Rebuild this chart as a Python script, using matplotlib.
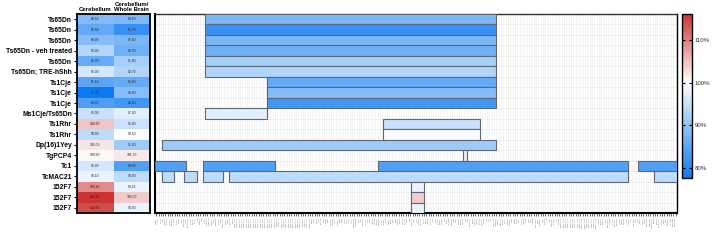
import numpy as np
import matplotlib
matplotlib.use("Agg")
import matplotlib.pyplot as plt
from matplotlib.colors import LinearSegmentedColormap, Normalize
from matplotlib.cm import ScalarMappable

plt.rcParams['font.family'] = ['Liberation Sans', 'DejaVu Sans']

# mouse models (rows, top to bottom)
models = ["Ts65Dn", "Ts65Dn", "Ts65Dn", "Ts65Dn - veh treated", "Ts65Dn",
          "Ts65Dn; TRE-hShh", "Ts1Cje", "Ts1Cje", "Ts1Cje", "Ms1Cje/Ts65Dn",
          "Ts1Rhr", "Ts1Rhr", "Dp(16)1Yey", "TgPCP4", "Tc1", "TcMAC21",
          "152F7", "152F7", "152F7"]
cerebellum = [88.50, 85.50, 88.90, 93.00, 86.00, 96.00, 85.10, 77.70, 83.80, 95.00,
              104.60, 94.00, 102.00, 100.60, 96.00, 98.10, 109.10, 116.05, 114.00]
whole_brain = [88.10, 81.70, 87.80, 86.70, 91.80, 92.70, 85.90, 88.80, 82.50, 97.30,
               95.00, 99.50, 91.10, 101.70, 84.00, 94.00, 98.22, 104.00, 98.00]

# trisomic gene ranges per model, in gene-axis units
segments = [
    [(21.5, 146.5)],
    [(21.5, 146.5)],
    [(21.5, 146.5)],
    [(21.5, 146.5)],
    [(21.5, 146.5)],
    [(21.5, 146.5)],
    [(48.0, 146.5)],
    [(48.0, 146.5)],
    [(48.0, 146.5)],
    [(21.5, 48.0)],
    [(98.0, 139.5)],
    [(98.0, 139.5)],
    [(3.0, 146.5)],
    [(132.2, 133.7)],
    [(0.0, 13.5), (20.7, 51.5), (95.8, 203.0), (207.2, 224.0)],
    [(2.9, 8.2), (12.3, 17.9), (20.7, 29.3), (31.9, 203.0), (214.0, 224.0)],
    [(109.7, 115.5)],
    [(109.7, 115.5)],
    [(109.7, 115.5)],
]

genes = [
    "Bage2", "Tpte", "Poted", "Lipi", "Rbm11", "Abcc13", "Hspa13", "Samsn1", "Nrip1", "Usp25",
    "Cxadr", "Btg3", "C21orf91", "Chodl", "Tmprss15", "Ncam2", "Mrpl39", "Jam2", "Atp5j", "Gabpa",
    "App", "Cyyr1", "Adamts1", "Adamts5", "N6amt1", "Ltn1", "Rwdd2b", "Usp16", "Cct8", "Map3k7cl",
    "Bach1", "Grik1", "Cldn17", "Cldn8", "Krtap24-1", "Krtap25-1", "Krtap26-1", "Krtap27-1", "Krtap23-1", "Krtap13-2",
    "Krtap13-1", "Krtap13-3", "Krtap13-4", "Krtap15-1", "Krtap19-1", "Krtap19-2", "Krtap19-3", "Krtap19-4", "Krtap19-5", "Krtap19-6",
    "Krtap19-7", "Krtap22-2", "Krtap6-3", "Krtap6-2", "Krtap22-1", "Krtap6-1", "Krtap20-1", "Krtap20-2", "Krtap20-3", "Krtap20-4",
    "Krtap21-3", "Krtap21-2", "Krtap21-1", "Krtap8-1", "Krtap7-1", "Krtap11-1", "Krtap19-8", "Tiam1", "Sod1", "Scaf4",
    "Hunk", "Mis18a", "Urb1", "Eva1c", "Mrap", "Cfap298", "Tcp10l", "Synj1", "Paxbp1", "Olig2",
    "Olig1", "Ifnar2", "Il10rb", "Ifnar1", "Ifngr2", "Tmem50b", "Dnajc28", "Gart", "Son", "Donson",
    "Cryzl1", "Itsn1", "Atp5o", "Mrps6", "Slc5a3", "Kcne2", "Smim11", "Kcne1", "Rcan1", "Clic6",
    "Runx1", "Setd4", "Cbr1", "Cbr3", "Dop1b", "Morc3", "Chaf1b", "Cldn14", "Sim2", "Hlcs",
    "Ripply3", "Pigp", "Ttc3", "Vps26c", "Dyrk1a", "Kcnj6", "Dscr4", "Dscr8", "Kcnj15", "Erg",
    "Ets2", "Psmg1", "Brwd1", "Hmgn1", "Wrb", "Lca5l", "Sh3bgr", "B3galt5", "Igsf5", "Pcp4",
    "Dscam", "Bace2", "Fam3b", "Mx2", "Mx1", "Tmprss2", "Ripk4", "Prdm15", "C2cd2", "Zbtb21",
    "Umodl1", "Abcg1", "Tff3", "Tff2", "Tff1", "Tmprss3", "Ubash3a", "Rsph1", "Slc37a1", "Pde9a",
    "Wdr4", "Ndufv3", "Pknox1", "Cbs", "U2af1", "Cryaa", "Sik1", "Hsf2bp", "Rrp1b", "Pdxk",
    "Cstb", "Rrp1", "Agpat3", "Trappc10", "Pwp2", "Gatd3a", "Icosl", "Dnmt3l", "Aire", "Pfkl",
    "Cfap410", "Trpm2", "Lrrc3", "Tspear", "Krtap10-1", "Krtap10-2", "Krtap10-3", "Krtap10-4", "Krtap10-5", "Krtap10-6",
    "Krtap10-7", "Krtap10-8", "Krtap10-9", "Krtap10-10", "Krtap10-11", "Krtap12-4", "Krtap12-3", "Krtap12-2", "Krtap12-1", "Krtap10-12",
    "Ube2g2", "Sumo3", "Pttg1ip", "Itgb2", "Fam207a", "Adarb1", "Pofut2", "Col18a1", "Slc19a1", "Pcbp3",
    "Col6a1", "Col6a2", "Ftcd", "Spatc1l", "Lss", "Mcm3ap", "Ybey", "Pcnt", "Dip2a", "S100b",
    "Prmt2", "C21orf58", "C21orf62", "C21orf140", "Dscr9", "Dscr10", "Smim34a", "Gatd3b", "Sik1b", "Cbsl",
    "U2af1l5", "Cryaa2", "Mir99ahg", "Mir155hg",
]

vals = np.column_stack([cerebellum, whole_brain])
vmin, vmax = vals.min(), vals.max()
mid = (100 - vmin) / (vmax - vmin)
cmap = LinearSegmentedColormap.from_list(
    "ds", [(0, "#0d7af2"), (mid, "#ffffff"), (1, "#cc3333")])
norm = Normalize(vmin=vmin, vmax=vmax)

fig = plt.figure(figsize=(7.13, 2.5), dpi=100)
ax_h = fig.add_axes([0.108, 0.148, 0.1024, 0.796])
ax_b = fig.add_axes([0.2174, 0.148, 0.7321, 0.796])
cax = fig.add_axes([0.9565, 0.288, 0.014, 0.656])

n = len(models)

# heatmap
ax_h.pcolormesh(np.arange(3), np.arange(n + 1), vals, cmap=cmap, norm=norm)
for i in range(n):
    for j in range(2):
        ax_h.text(j + 0.5, i + 0.5, "%.2f" % vals[i, j], ha="center", va="center",
                  fontsize=2.4, color="#222222")
ax_h.set_xlim(0, 2)
ax_h.set_ylim(n, 0)
ax_h.set_yticks(np.arange(n) + 0.5)
ax_h.set_yticklabels(models, fontsize=4.9, fontweight="bold")
ax_h.tick_params(axis="y", length=2.5, width=0.8, pad=1)
ax_h.xaxis.tick_top()
ax_h.set_xticks([0.5, 1.5])
ax_h.set_xticklabels(["Cerebellum", "Cerebellum/\nWhole Brain"], fontsize=4.3,
                     fontweight="bold", linespacing=0.95)
ax_h.tick_params(axis="x", length=0, pad=1.5)
for s in ax_h.spines.values():
    s.set_linewidth(1.3)

# gene coverage bars
ng = len(genes)
for i in range(n):
    for a, b in segments[i]:
        ax_b.barh(i + 0.5, b - a, left=a, height=1.0, color=cmap(norm(whole_brain[i])),
                  edgecolor="#5d6873", linewidth=0.8, zorder=3)
ax_b.set_xlim(0, ng)
ax_b.set_ylim(n, 0)
ax_b.set_yticks([])
ax_b.set_xticks(np.arange(ng) + 0.5)
ax_b.set_xticklabels(genes, rotation=90, fontsize=1.6, color="#777777")
ax_b.tick_params(axis="x", length=2, width=0.5, pad=1, color="#333333")
for x in np.arange(ng) + 0.5:
    ax_b.axvline(x, color="#ececec", linewidth=0.4, zorder=1)
for y in range(1, n):
    ax_b.axhline(y, color="#e6e6e6", linewidth=0.4, zorder=1)
ax_b.spines["left"].set_linewidth(1.5)
ax_b.spines["bottom"].set_linewidth(1.5)
ax_b.spines["top"].set_linewidth(1.0)
ax_b.spines["right"].set_linewidth(1.0)
ax_b.spines["top"].set_color("#333333")

# colour scale
cb = fig.colorbar(ScalarMappable(norm=norm, cmap=cmap), cax=cax, ticks=[80, 90, 100, 110])
cb.ax.set_yticklabels(["80%", "90%", "100%", "110%"])
cb.outline.set_linewidth(1.0)
cax.tick_params(direction="in", left=True, right=True, length=2, width=0.8,
                labelsize=4.4, labelcolor="#333333", pad=2)

fig.savefig("out.png", dpi=100)
